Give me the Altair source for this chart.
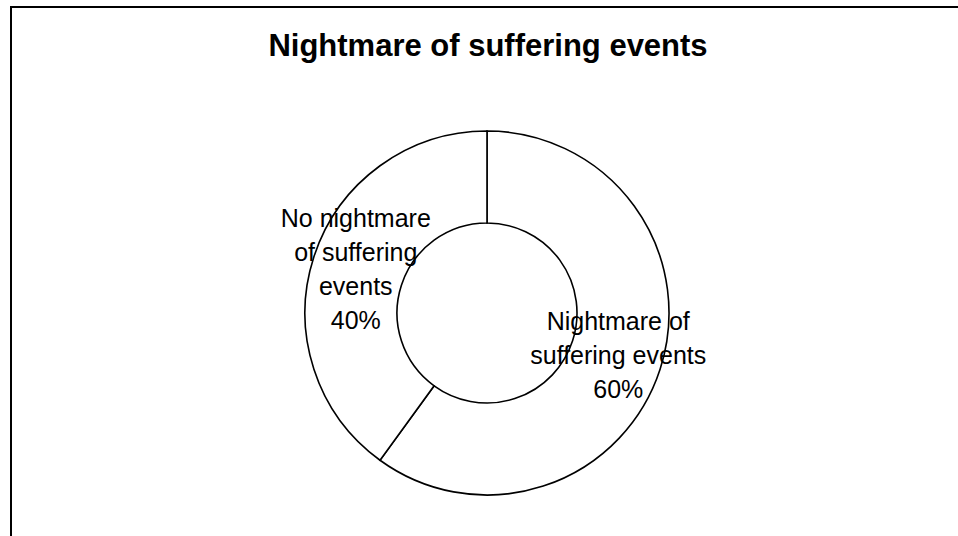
import altair as alt
import pandas as pd

title_text = "Nightmare of suffering events"
categories = ["Nightmare of suffering events", "No nightmare of suffering events"]
percentages = [60, 40]
label_texts = [
    "Nightmare of\nsuffering events\n60%",
    "No nightmare\nof suffering\nevents\n40%",
]

df = pd.DataFrame({"category": categories, "pct": percentages, "label": label_texts})
title_df = pd.DataFrame({"title": [title_text]})

CX, CY = 487, 243  # centre inside the plot area (plot area starts 70px down)

base = alt.Chart(df).encode(
    theta=alt.Theta("pct:Q", stack=True),
    x=alt.value(CX),
    y=alt.value(CY),
)

ring = base.mark_arc(
    outerRadius=182,
    innerRadius=90,
    fill="white",
    stroke="black",
    strokeWidth=1.6,
)

text_style = dict(
    radius=138,
    font="Liberation Sans",
    fontSize=25,
    lineHeight=34,
    lineBreak="\n",
    align="center",
    baseline="middle",
    color="black",
)

labels_yes = base.mark_text(dy=-34, **text_style).encode(
    text="label:N",
    opacity=alt.condition(alt.datum.category == categories[0], alt.value(1), alt.value(0)),
)
labels_no = base.mark_text(dy=-51, **text_style).encode(
    text="label:N",
    opacity=alt.condition(alt.datum.category == categories[1], alt.value(1), alt.value(0)),
)

title_mark = alt.Chart(title_df).mark_text(
    font="Liberation Sans",
    fontSize=31,
    fontWeight="bold",
    color="black",
    align="center",
    baseline="alphabetic",
).encode(text="title:N", x=alt.value(488), y=alt.value(-14))

frame_left = alt.Chart(title_df).mark_rule(color="black", strokeWidth=2).encode(
    x=alt.value(11), y=alt.value(-64), y2=alt.value(470)
)
frame_top = alt.Chart(title_df).mark_rule(color="black", strokeWidth=2).encode(
    x=alt.value(10), x2=alt.value(960), y=alt.value(-63)
)

chart = (
    alt.layer(ring, labels_yes, labels_no, title_mark, frame_left, frame_top)
    .properties(
        width=958,
        height=466,
        padding={"left": 0, "top": 70, "right": 0, "bottom": 0},
        autosize=alt.AutoSizeParams(type="none"),
        background="white",
    )
    .configure_view(strokeWidth=0)
)

chart.save("out.html", embed_options={"renderer": "svg", "actions": False})
